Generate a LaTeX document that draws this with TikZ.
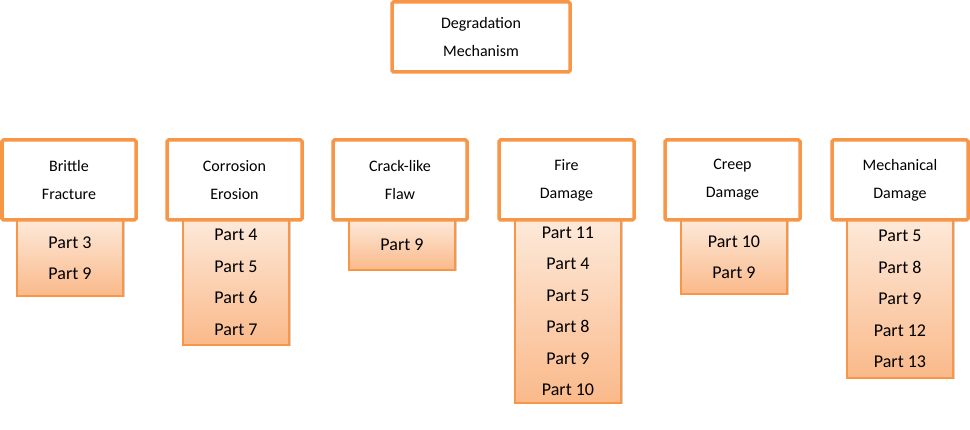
\documentclass[tikz,border=0pt]{standalone}
\usepackage{fontspec}
\setmainfont{Carlito}
\usetikzlibrary{shadows}
\definecolor{ob}{HTML}{F79646}
\definecolor{gtop}{HTML}{FDE9D9}
\definecolor{gbot}{HTML}{FAB98A}
\begin{document}
\begin{tikzpicture}[x=1pt,y=-1pt,
  head/.style={draw=ob,line width=3.5pt,fill=white,rounded corners=1.5pt,align=center,
    font=\fontsize{16}{28}\selectfont,inner sep=0pt},
  sub/.style={draw=ob,line width=1.2pt,top color=gtop,bottom color=gbot,align=center,
    font=\fontsize{18}{31.5}\selectfont,inner sep=0pt,
    drop shadow={shadow xshift=1.5pt,shadow yshift=-1.5pt,opacity=0.35}}]
\useasboundingbox (0,0) rectangle (970,430);
\newcommand{\myhb}[6]{\node[head,minimum width=#3,minimum height=#4] (#1) at (#5,#6) {#2};}
\newcommand{\mysb}[6]{\node[sub,minimum width=106,minimum height=#4] (#1) at (#5,#6) {#2};}
\mysb{s1}{Part 3\\Part 9}{}{76}{70}{258}
\mysb{s2}{Part 4\\Part 5\\Part 6\\Part 7}{}{125}{236}{282.5}
\mysb{s3}{Part 9}{}{50}{402}{245}
\mysb{s4}{Part 11\\Part 4\\Part 5\\Part 8\\Part 9\\Part 10}{}{183}{568}{311.5}
\mysb{s5}{Part 10\\Part 9}{}{74}{734}{257}
\mysb{s6}{Part 5\\Part 8\\Part 9\\Part 12\\Part 13}{}{158}{900}{299}
\myhb{top}{Degradation\\Mechanism}{178}{70}{481}{37}
\myhb{h1}{Brittle\\Fracture}{134}{80}{69}{180}
\myhb{h2}{Corrosion\\Erosion}{135}{80}{234.5}{180}
\myhb{h3}{Crack-like\\Flaw}{134}{80}{400}{180}
\myhb{h4}{Fire\\Damage}{135}{80}{566.5}{180}
\myhb{h5}{Creep\\Damage}{135}{80}{732.5}{180}
\myhb{h6}{Mechanical\\Damage}{136}{80}{900}{180}
\end{tikzpicture}
\end{document}
